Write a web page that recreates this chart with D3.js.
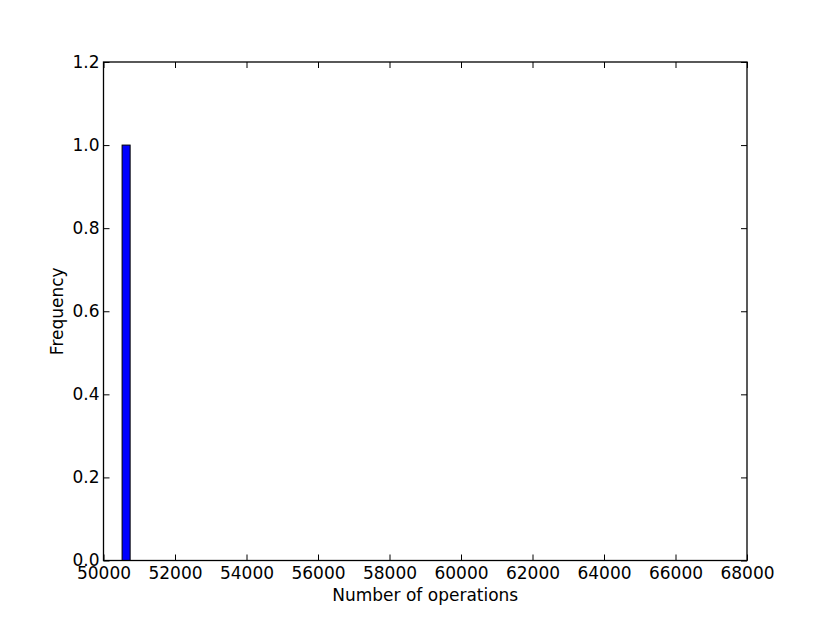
<!DOCTYPE html>
<html>
<head>
<meta charset="utf-8">
<script src="https://cdn.jsdelivr.net/npm/d3@7"></script>
<style>
  body { margin: 0; background: #fff; }
  svg { display: block; font-family: "DejaVu Sans", sans-serif; }
</style>
</head>
<body>
<svg id="chart" width="830" height="623"></svg>
<script>
// histogram bins (edges) and counts
const binEdges = [50520, 50745];
const counts = [1];
const xTicks = [50000, 52000, 54000, 56000, 58000, 60000, 62000, 64000, 66000, 68000];
const yTicks = [0.0, 0.2, 0.4, 0.6, 0.8, 1.0, 1.2];

const svg = d3.select('#chart');
const margin = {top: 62, right: 83, bottom: 62.5, left: 103.5};
const width = 830 - margin.left - margin.right,
      height = 623 - margin.top - margin.bottom;
const fontSize = '17px';

const g = svg.append('g')
    .attr('transform', `translate(${margin.left},${margin.top})`);

const x = d3.scaleLinear().domain([50000, 68000]).range([0, width]);
const y = d3.scaleLinear().domain([0, 1.2]).range([height, 0]);

// bars
const bins = counts.map((c, i) => ({x0: binEdges[i], x1: binEdges[i + 1], c}));
g.selectAll('.bar')
    .data(bins)
    .join('rect')
    .attr('class', 'bar')
    .attr('x', d => x(d.x0))
    .attr('width', d => x(d.x1) - x(d.x0))
    .attr('y', d => y(d.c))
    .attr('height', d => y(0) - y(d.c))
    .attr('fill', '#0000ff')
    .attr('stroke', '#000')
    .attr('stroke-width', 1);

// axes, ticks pointing inward on all four sides
const tickLen = 6;
const fmtY = d3.format('.1f');

const xAxisB = g.append('g')
    .attr('transform', `translate(0,${height})`)
    .call(d3.axisBottom(x).tickValues(xTicks).tickFormat(d3.format('d'))
        .tickSizeInner(-tickLen).tickSizeOuter(0).tickPadding(6));
const xAxisT = g.append('g')
    .call(d3.axisTop(x).tickValues(xTicks).tickFormat('')
        .tickSizeInner(-tickLen).tickSizeOuter(0));
const yAxisL = g.append('g')
    .call(d3.axisLeft(y).tickValues(yTicks).tickFormat(fmtY)
        .tickSizeInner(-tickLen).tickSizeOuter(0).tickPadding(4));
const yAxisR = g.append('g')
    .attr('transform', `translate(${width},0)`)
    .call(d3.axisRight(y).tickValues(yTicks).tickFormat('')
        .tickSizeInner(-tickLen).tickSizeOuter(0));

[xAxisB, xAxisT, yAxisL, yAxisR].forEach(a => {
    a.select('.domain').remove();
    a.selectAll('line').attr('stroke', '#000').attr('stroke-width', 1);
    a.selectAll('text')
        .attr('fill', '#000')
        .attr('font-family', '"DejaVu Sans", sans-serif')
        .attr('font-size', fontSize);
});

// frame
g.append('rect')
    .attr('width', width)
    .attr('height', height)
    .attr('fill', 'none')
    .attr('stroke', '#000')
    .attr('stroke-width', 1.3);

// labels
g.append('text')
    .attr('x', width / 2)
    .attr('y', height + 40)
    .attr('text-anchor', 'middle')
    .attr('font-size', fontSize)
    .text('Number of operations');
g.append('text')
    .attr('transform', 'rotate(-90)')
    .attr('x', -height / 2)
    .attr('y', -41)
    .attr('text-anchor', 'middle')
    .attr('font-size', fontSize)
    .text('Frequency');
</script>
</body>
</html>
